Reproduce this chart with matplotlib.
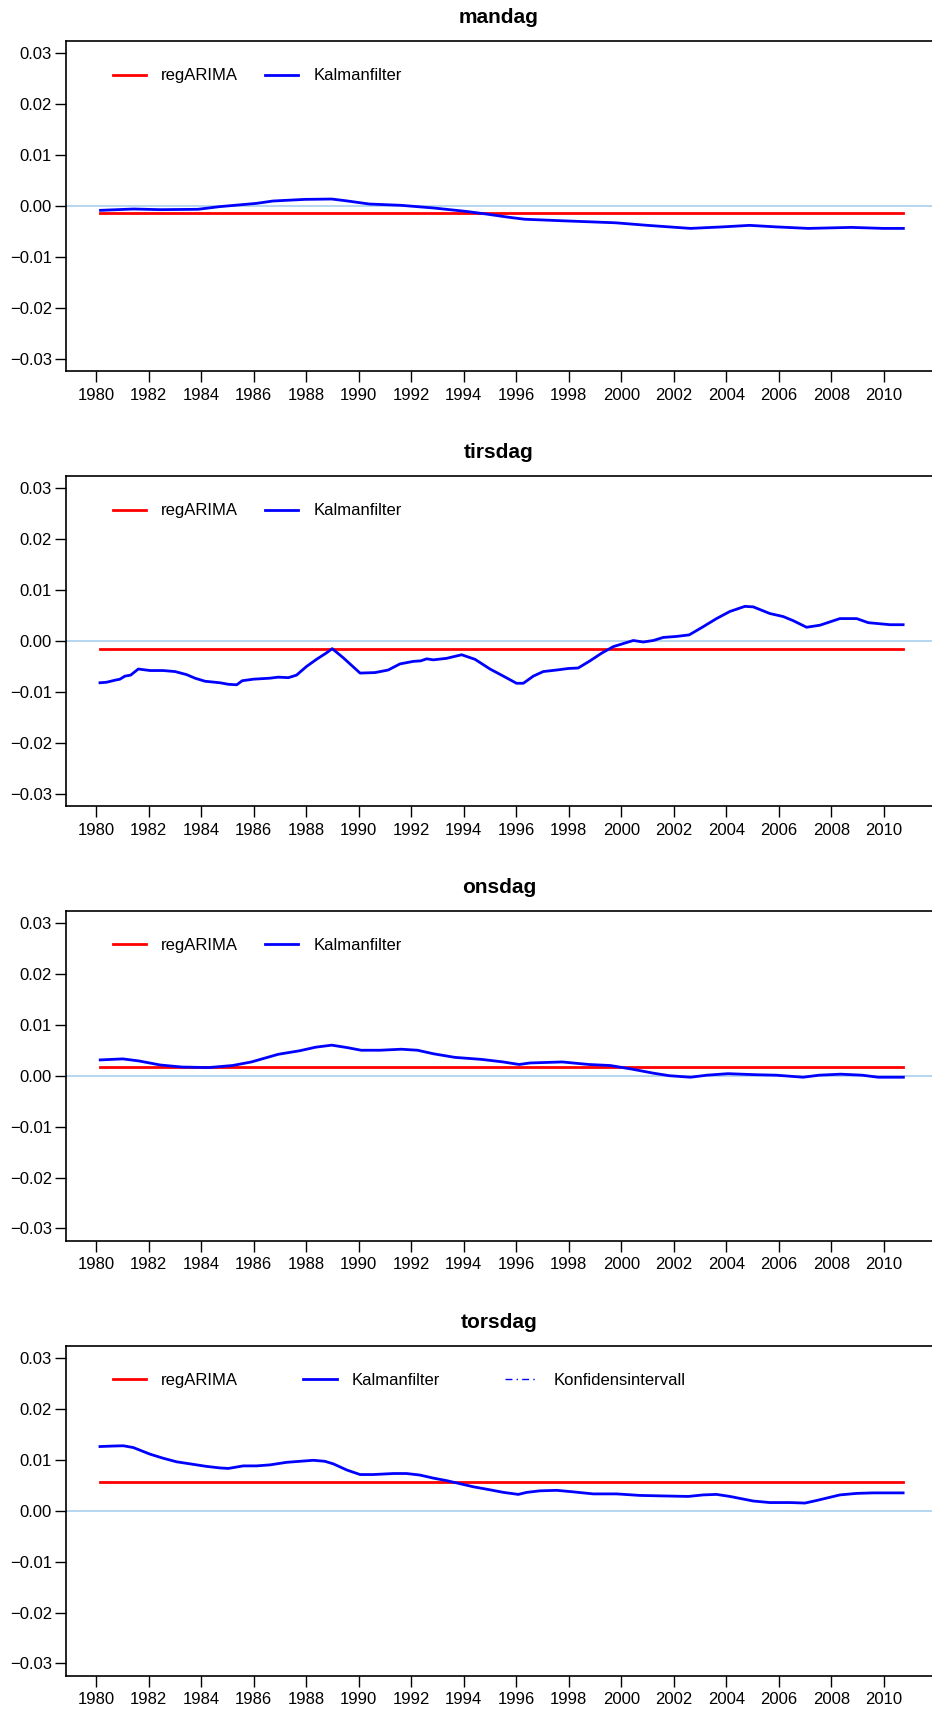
import numpy as np
import matplotlib
matplotlib.use("Agg")
import matplotlib.pyplot as plt

plt.rcParams['font.family'] = ['Liberation Sans', 'DejaVu Sans']

# regARIMA estimates (constant over the period)
regarima = {'mandag': -0.00135, 'tirsdag': -0.00163, 'onsdag': 0.00178, 'torsdag': 0.00572}
start_year = 1980.16
end_year = 2010.75

# Kalman filter estimates
man_t = [1980.16, 1981.42, 1982.44, 1983.87, 1984.69, 1986.11, 1986.73, 1987.95, 1988.97,
         1989.58, 1990.40, 1991.62, 1992.85, 1994.07, 1994.89, 1995.70, 1996.32, 1997.75,
         1999.79, 2001.00, 2002.64, 2003.87, 2004.89, 2005.90, 2007.13, 2008.77, 2009.99, 2010.75]
man_v = [-0.00085, -0.00059, -0.00072, -0.00065, -0.00013, 0.00052, 0.00098, 0.0013, 0.00137,
         0.00098, 0.00039, 0.00013, -0.00039, -0.00105, -0.0016, -0.0022, -0.0026, -0.0029,
         -0.0033, -0.0038, -0.0044, -0.0041, -0.0038, -0.0041, -0.0044, -0.0042, -0.0044, -0.0044]

tir_t = [1980.14, 1980.39, 1980.71, 1980.90, 1981.09, 1981.31, 1981.60, 1982.05, 1982.55,
         1983.00, 1983.44, 1983.76, 1984.14, 1984.71, 1985.03, 1985.35, 1985.56, 1985.98,
         1986.62, 1986.93, 1987.32, 1987.63, 1988.01, 1988.39, 1988.78, 1988.99, 1989.41,
         1990.05, 1990.62, 1991.12, 1991.57, 1992.08, 1992.36, 1992.59, 1992.84, 1993.35,
         1993.92, 1994.43, 1995.00, 1995.51, 1996.01, 1996.27, 1996.65, 1997.03, 1997.54,
         1997.98, 1998.36, 1998.81, 1999.25, 1999.70, 2000.08, 2000.46, 2000.84, 2001.22,
         2001.60, 2002.11, 2002.59, 2003.12, 2003.63, 2004.14, 2004.71, 2005.03, 2005.66,
         2006.17, 2006.55, 2007.06, 2007.57, 2008.33, 2008.97, 2009.41, 2010.24, 2010.74]
tir_v = [-0.0082, -0.0081, -0.0077, -0.0075, -0.0069, -0.0067, -0.0055, -0.0058, -0.0058,
         -0.0060, -0.0066, -0.0073, -0.0079, -0.0082, -0.0085, -0.0086, -0.0078, -0.0075,
         -0.0073, -0.0071, -0.0072, -0.0067, -0.0050, -0.0036, -0.0023, -0.0015, -0.0033,
         -0.0063, -0.0062, -0.0057, -0.0045, -0.0040, -0.0039, -0.0035, -0.0037, -0.0034,
         -0.0027, -0.0036, -0.0055, -0.0069, -0.0083, -0.0083, -0.0069, -0.0060, -0.0057,
         -0.0054, -0.0053, -0.0039, -0.0024, -0.0011, -0.0005, 0.0001, -0.0002, 0.0001,
         0.0007, 0.0009, 0.0012, 0.0028, 0.0044, 0.0058, 0.0068, 0.0067, 0.0054,
         0.0048, 0.0040, 0.0027, 0.0031, 0.0044, 0.0044, 0.0036, 0.0032, 0.0032]

ons_t = [1980.15, 1981.01, 1981.62, 1982.44, 1983.26, 1984.28, 1985.19, 1985.91, 1986.93,
         1987.75, 1988.36, 1988.97, 1989.58, 1990.09, 1990.81, 1991.62, 1992.24, 1992.85,
         1993.66, 1994.68, 1995.50, 1996.11, 1996.52, 1997.75, 1998.77, 1999.58, 2000.40,
         2001.22, 2001.83, 2002.64, 2003.26, 2004.07, 2005.09, 2005.91, 2006.93, 2007.54,
         2008.36, 2009.18, 2009.79, 2010.75]
ons_v = [0.0031, 0.0033, 0.0029, 0.0021, 0.0017, 0.0016, 0.0020, 0.0027, 0.0042,
         0.0049, 0.0056, 0.0060, 0.0055, 0.0050, 0.0050, 0.0052, 0.0050, 0.0043,
         0.0036, 0.0032, 0.0027, 0.0022, 0.0025, 0.0027, 0.0022, 0.0020, 0.0013,
         0.0005, 0.0000, -0.0003, 0.0001, 0.0004, 0.0002, 0.0001, -0.0003, 0.0001,
         0.0003, 0.0001, -0.0003, -0.0003]

tor_t = [1980.14, 1980.65, 1981.03, 1981.41, 1982.05, 1982.55, 1983.06, 1983.57, 1984.20,
         1984.71, 1985.03, 1985.60, 1986.11, 1986.62, 1987.25, 1987.76, 1988.27, 1988.71,
         1989.03, 1989.54, 1990.05, 1990.55, 1991.32, 1991.82, 1992.33, 1992.84, 1993.35,
         1993.86, 1994.36, 1995.00, 1995.51, 1996.08, 1996.40, 1996.90, 1997.54, 1998.17,
         1998.93, 1999.82, 2000.71, 2001.60, 2002.55, 2003.12, 2003.63, 2004.14, 2005.03,
         2005.66, 2006.43, 2007.00, 2007.44, 2008.33, 2008.97, 2009.60, 2010.24, 2010.74]
tor_v = [0.0126, 0.0127, 0.01275, 0.0124, 0.0111, 0.0103, 0.0096, 0.0092, 0.0087,
         0.0084, 0.0083, 0.0088, 0.0088, 0.0090, 0.0095, 0.0097, 0.0099, 0.0097,
         0.0092, 0.0080, 0.0071, 0.0071, 0.0073, 0.0073, 0.0070, 0.0064, 0.0059,
         0.0053, 0.0047, 0.0041, 0.0036, 0.0032, 0.0036, 0.0039, 0.0040, 0.0037,
         0.0033, 0.0033, 0.0030, 0.0029, 0.0028, 0.0031, 0.0032, 0.0028, 0.0019,
         0.0016, 0.0016, 0.0015, 0.0020, 0.0031, 0.0034, 0.0035, 0.0035, 0.0035]

days = ['mandag', 'tirsdag', 'onsdag', 'torsdag']
kalman = {'mandag': (man_t, man_v), 'tirsdag': (tir_t, tir_v),
          'onsdag': (ons_t, ons_v), 'torsdag': (tor_t, tor_v)}

yticks = [-0.03, -0.02, -0.01, 0.00, 0.01, 0.02, 0.03]
xticks = list(range(1980, 2011, 2))

fig = plt.figure(figsize=(9.32, 17.10), dpi=100)

W, H = 932.0, 1710.0
bottoms_px = [371, 806, 1240.7, 1675.7]
ax_h = 330.0
left_px = 66.0

for i, day in enumerate(days):
    ax = fig.add_axes([left_px / W, 1 - bottoms_px[i] / H, (W - left_px) / W, ax_h / H])
    t, v = kalman[day]

    ax.axhline(0, color='#a9d0ee', lw=1.2, zorder=1)
    ax.plot([start_year, end_year], [regarima[day]] * 2, color='#ff0000', lw=2.0,
            label='regARIMA', zorder=2)
    ax.plot(t, v, color='#0000ff', lw=2.0, label='Kalmanfilter', zorder=3)
    if day == 'torsdag':
        ax.plot([], [], color='#0000ff', lw=1.0, ls=(0, (5, 3, 1, 3)), label='Konfidensintervall')
        colsp = 3.9
        ncol = 3
    else:
        colsp = 1.6
        ncol = 2

    ax.set_xlim(1978.846, 2011.84)
    ax.set_ylim(-0.0324, 0.0324)
    ax.set_xticks(xticks)
    ax.set_yticks(yticks)
    ax.set_yticklabels([f'{y:.2f}'.replace('-', '\u2212') for y in yticks])
    ax.tick_params(direction='out', length=8, width=1.0, labelsize=12, colors='black')
    ax.tick_params(axis='x', pad=4)
    ax.tick_params(axis='y', pad=2)
    for s in ['left', 'top', 'bottom']:
        ax.spines[s].set_linewidth(1.2)
    ax.spines['right'].set_visible(False)

    ax.set_title(day, fontsize=15, fontweight='bold', pad=13)

    ax.legend(loc='upper left', bbox_to_anchor=(0.0543, 0.917), ncol=ncol, frameon=False,
              fontsize=12, borderpad=0, borderaxespad=0, handlelength=2.0,
              handletextpad=0.9, columnspacing=colsp)

fig.savefig('out.png', dpi=100)
